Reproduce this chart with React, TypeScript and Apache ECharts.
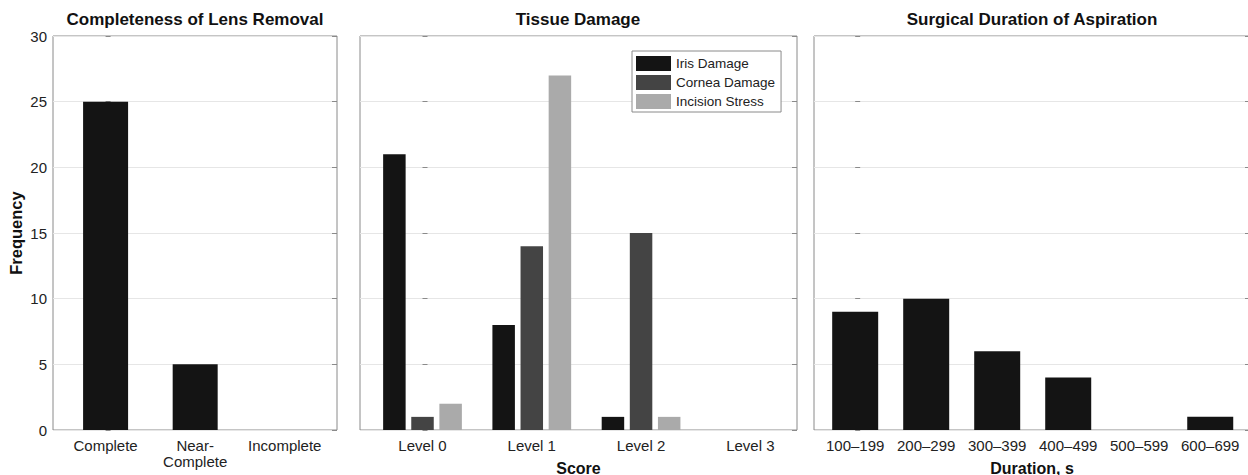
import React, { useEffect, useRef } from "react";
import * as echarts from "echarts";

const lensCategories = ["Complete", "Near-\nComplete", "Incomplete"];
const lensValues = [25, 5, 0];

const levelCategories = ["Level 0", "Level 1", "Level 2", "Level 3"];
const irisDamage = [21, 8, 1, 0];
const corneaDamage = [1, 14, 15, 0];
const incisionStress = [2, 27, 1, 0];

const durationCategories = ["100–199", "200–299", "300–399", "400–499", "500–599", "600–699"];
const durationValues = [9, 10, 6, 4, 0, 1];

const FONT = "'Liberation Sans', Arial, Helvetica, sans-serif";
const BORDER = "#8a8a8a";
const GRIDLINE = "#e6e6e6";

export default function App() {
  const ref = useRef<HTMLDivElement>(null);
  useEffect(() => {
    if (!ref.current) return;
    const chart = echarts.init(ref.current, null, { renderer: "svg" });

    const grids = [
      { left: 53, top: 36, width: 284, height: 394 },
      { left: 360, top: 36, width: 437, height: 394 },
      { left: 814, top: 36, width: 436, height: 394 },
    ].map((g) => ({
      ...g,
      show: true,
      borderColor: BORDER,
      borderWidth: 1,
      backgroundColor: "#fff",
      containLabel: false,
      outerBoundsMode: "none",
    }));

    const xRanges = [
      { min: -0.587, max: 2.583 },
      { min: -0.572, max: 3.427 },
      { min: -0.58, max: 5.56 },
    ];
    const xCats = [lensCategories, levelCategories, durationCategories];
    const xNames = ["", "Score", "Duration, s"];

    const xAxes = xRanges.map((r, i) => ({
      type: "value",
      gridIndex: i,
      min: r.min,
      max: r.max,
      name: xNames[i],
      nameLocation: "middle",
      nameGap: 30,
      nameTextStyle: { fontFamily: FONT, fontSize: 16, fontWeight: "bold", color: "#111" },
      axisLine: { show: false },
      axisTick: { show: false },
      splitLine: { show: false },
      axisLabel: {
        customValues: xCats[i].map((_, k) => k),
        formatter: (v: number) => xCats[i][Math.round(v)] ?? "",
        fontFamily: FONT,
        fontSize: 15,
        color: "#222",
        margin: 7,
        lineHeight: 16,
        showMinLabel: true,
        showMaxLabel: true,
      },
    }));

    const yAxes: any[] = [];
    for (let i = 0; i < 3; i++) {
      yAxes.push({
        type: "value",
        gridIndex: i,
        position: "left",
        min: 0,
        max: 30,
        interval: 5,
        name: i === 0 ? "Frequency" : "",
        nameLocation: "middle",
        nameRotate: 90,
        nameGap: 29,
        nameTextStyle: { fontFamily: FONT, fontSize: 16.5, fontWeight: "bold", color: "#111" },
        axisLine: { show: false },
        axisTick: { show: true, inside: true, length: 5, lineStyle: { color: BORDER } },
        axisLabel: { show: i === 0, fontFamily: FONT, fontSize: 15, color: "#222", margin: 6 },
        splitLine: { show: true, lineStyle: { color: GRIDLINE, width: 1 } },
      });
      yAxes.push({
        type: "value",
        gridIndex: i,
        position: "right",
        min: 0,
        max: 30,
        interval: 5,
        axisLine: { show: false },
        axisTick: { show: true, inside: true, length: 5, lineStyle: { color: BORDER } },
        axisLabel: { show: false },
        splitLine: { show: false },
      });
    }

    const toPairs = (arr: number[]) => arr.map((v, k) => [k, v]);

    const option = {
      animation: false,
      backgroundColor: "#fff",
      textStyle: { fontFamily: FONT },
      title: [
        { text: "Completeness of Lens Removal", left: 195, top: 11 },
        { text: "Tissue Damage", left: 578, top: 11 },
        { text: "Surgical Duration of Aspiration", left: 1032, top: 11 },
      ].map((t) => ({
        ...t,
        textAlign: "center",
        padding: 0,
        textStyle: { fontFamily: FONT, fontSize: 17, fontWeight: "bold", color: "#111" },
      })),
      legend: {
        data: ["Iris Damage", "Cornea Damage", "Incision Stress"],
        orient: "vertical",
        left: 632,
        top: 51,
        itemWidth: 35,
        itemHeight: 15,
        itemGap: 4,
        icon: "rect",
        padding: [5, 6, 3, 4],
        borderColor: BORDER,
        borderWidth: 1,
        backgroundColor: "#fff",
        textStyle: { fontFamily: FONT, fontSize: 13.5, color: "#222" },
      },
      grid: grids,
      xAxis: xAxes,
      yAxis: yAxes,
      series: [
        {
          name: "Lens",
          type: "bar",
          xAxisIndex: 0,
          yAxisIndex: 0,
          data: toPairs(lensValues),
          barWidth: 45,
          itemStyle: { color: "#141414" },
        },
        {
          name: "Iris Damage",
          type: "bar",
          xAxisIndex: 1,
          yAxisIndex: 2,
          data: toPairs(irisDamage),
          barWidth: 22.5,
          barGap: "25%",
          itemStyle: { color: "#141414" },
        },
        {
          name: "Cornea Damage",
          type: "bar",
          xAxisIndex: 1,
          yAxisIndex: 2,
          data: toPairs(corneaDamage),
          barWidth: 22.5,
          barGap: "25%",
          itemStyle: { color: "#444444" },
        },
        {
          name: "Incision Stress",
          type: "bar",
          xAxisIndex: 1,
          yAxisIndex: 2,
          data: toPairs(incisionStress),
          barWidth: 22.5,
          barGap: "25%",
          itemStyle: { color: "#aaaaaa" },
        },
        {
          name: "Duration",
          type: "bar",
          xAxisIndex: 2,
          yAxisIndex: 4,
          data: toPairs(durationValues),
          barWidth: 46,
          itemStyle: { color: "#141414" },
        },
      ],
    };

    chart.setOption(option as any);
    return () => chart.dispose();
  }, []);

  return (
    <div
      ref={ref}
      style={{ position: "absolute", left: 0, top: 0, width: 1248, height: 475, background: "#fff" }}
    />
  );
}
